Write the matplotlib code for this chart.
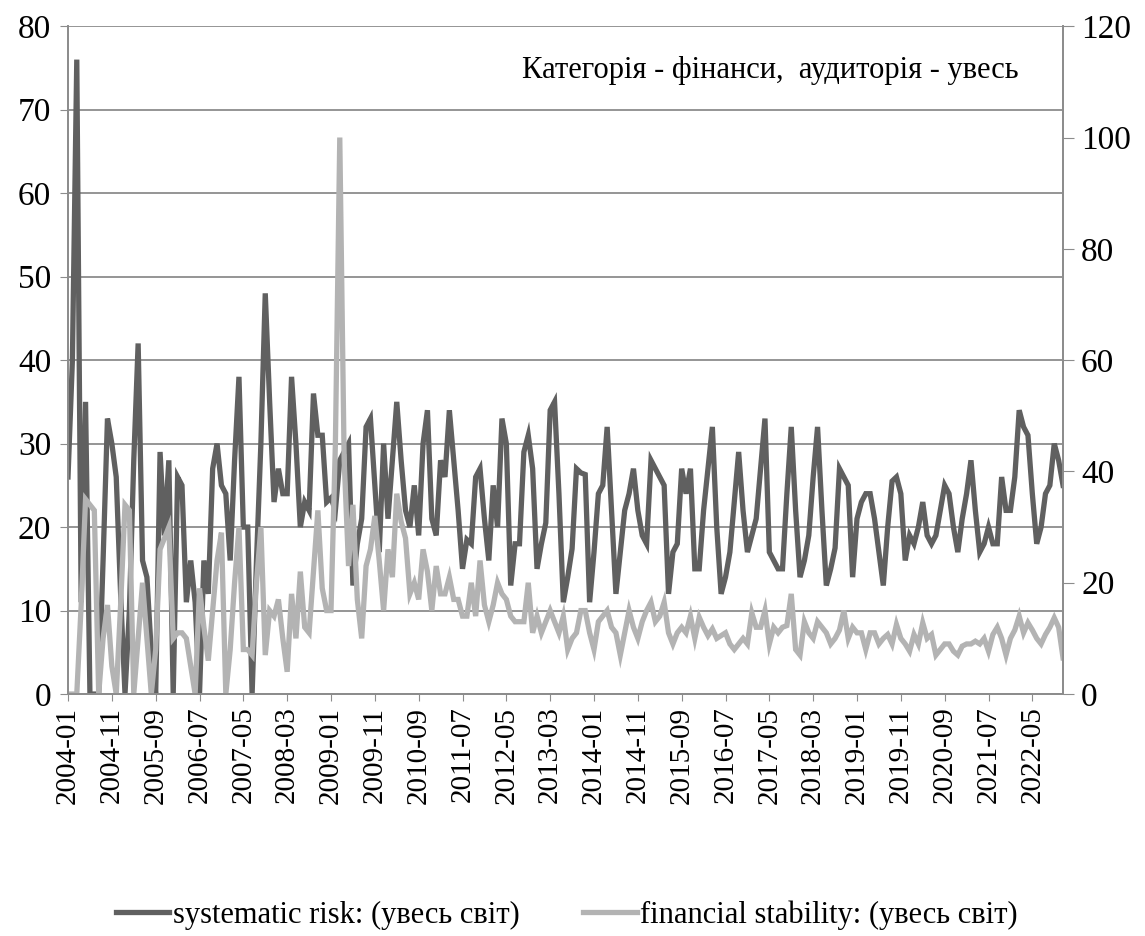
import matplotlib.pyplot as plt
import pandas as pd

# Months 2004-01 .. 2022-12
months = [str(p) for p in pd.period_range("2004-01", "2022-12", freq="M")]

# systematic risk (left axis)
systematic_risk = [
    26, 40, 76, 11, 35, 0, 0, 0, 16, 33,
    30, 26, 12, 0, 10, 28, 42, 16, 14, 5,
    0, 29, 19, 28, 0, 26, 25, 11, 16, 11,
    0, 16, 12, 27, 30, 25, 24, 16, 28, 38,
    20, 20, 0, 16, 30, 48, 35, 23, 27, 24,
    24, 38, 30, 20, 23, 22, 36, 31, 31, 23,
    23.5, 22, 28, 29, 30, 13, 18, 21, 32, 33,
    25, 17, 30, 21, 28, 35, 28, 22, 20, 25,
    19, 30, 34, 21, 19, 28, 26, 34, 28, 22,
    15, 18.5, 18, 26, 27, 21, 16, 25, 20, 33,
    30, 13, 18, 18, 29, 31, 27, 15, 18, 20.5,
    34, 35, 24, 11, 14, 17.4, 27, 26.5, 26.3, 11,
    17, 24, 25, 32, 22, 12, 17, 22, 24, 27,
    22, 19, 18, 28, 27, 26, 25, 12, 17, 18,
    27, 24, 27, 15, 15, 22, 27, 32, 20, 12,
    14, 17, 23, 29, 22, 17, 19, 21, 27, 33,
    17, 16, 15, 15, 24, 32, 22, 14, 16, 19,
    26, 32, 22, 13, 15, 17.5, 27, 26, 25, 14,
    21, 23, 24, 24, 21, 17, 13, 20, 25.5, 26,
    24, 16, 19, 18, 20, 23, 19, 18, 19, 22,
    25, 24, 20, 17, 21, 24, 28, 22, 17, 18,
    20, 18, 18, 26, 22, 22, 26, 34, 32, 31,
    24, 18, 20, 24, 25, 30, 28, 25,
]

# financial stability (right axis)
financial_stability = [
    0, 0, 0, 16, 35, 34, 33, 0, 10, 16,
    5, 0, 16, 34, 33, 0, 10, 20, 10, 0,
    8, 26, 28, 30, 10, 11, 11, 10, 5, 0,
    19, 12, 6, 15, 24, 29, 0, 8, 20, 30,
    8, 8, 7, 20, 30, 7, 15, 14, 17, 10,
    4, 18, 10, 22, 12, 11, 22, 33, 19, 15,
    15, 45, 100, 42, 23, 34, 17, 10, 23, 26,
    32, 24, 15, 26, 21, 36, 31, 28, 18, 20,
    17, 26, 22, 15, 23, 18, 18, 21, 17, 17,
    14, 14, 20, 14, 24, 16, 13, 16, 20, 18,
    17, 14, 13, 13, 13, 20, 11, 14, 11, 13,
    15, 13, 11, 14, 8, 10, 11, 15, 15, 11,
    8, 13, 14, 15, 12, 11, 7, 11, 15, 12,
    10, 13, 15, 16.5, 13, 14, 16.5, 11, 9, 11,
    12, 11, 14, 10, 13.8, 12, 10.5, 11.7, 10, 10.5,
    11, 9, 8, 9, 10, 9, 14.6, 12, 12, 15,
    9, 12, 11, 12, 12.3, 18, 8, 7, 13, 11,
    10, 13, 12, 11, 9, 10, 11.5, 15, 10, 12,
    11, 11, 8, 11, 11, 9, 10, 10.7, 9, 12.5,
    10, 9, 7.7, 10.7, 9, 12.8, 10, 10.7, 7, 8,
    9, 9, 7.7, 7, 8.6, 9, 9, 9.5, 9, 10,
    7.7, 10.7, 12, 10, 7, 10, 11.5, 14, 11, 12.8,
    11.5, 10, 9, 10.7, 12, 13.7, 12, 6.5,
]

plt.rcParams['font.family'] = ['Liberation Serif', 'DejaVu Serif']

fig = plt.figure(figsize=(11.45, 9.36), dpi=100)
ax = fig.add_axes([0.0594, 0.2585, 0.8690, 0.7135])
ax2 = ax.twinx()

x = list(range(len(months)))
l1, = ax.plot(x, systematic_risk, color='#606060', lw=3.8,
              solid_joinstyle='miter', label='systematic risk: (увесь світ)')
l2, = ax2.plot(x, financial_stability, color='#b3b3b3', lw=3.8,
               solid_joinstyle='miter', label='financial stability: (увесь світ)')

ax.set_xlim(0, len(months) - 1)
ax.set_ylim(0, 80)
ax2.set_ylim(0, 120)
ax.set_yticks(range(0, 81, 10))
ax2.set_yticks(range(0, 121, 20))
ax.set_xticks(x[::10])
ax.set_xticklabels(months[::10], rotation=90)

ax.grid(axis='y', color='#8c8c8c', lw=1.3)
ax.set_axisbelow(True)

for a in (ax, ax2):
    for s in a.spines.values():
        s.set_color('#8c8c8c')
        s.set_linewidth(1.3)
    a.spines['top'].set_visible(False)
ax.tick_params(axis='y', labelsize=24, length=6, color='#8c8c8c', pad=6)
ax.tick_params(axis='x', labelsize=21, length=5, color='#8c8c8c', pad=4)
ax2.tick_params(axis='y', labelsize=24, length=8, color='#8c8c8c', pad=5)

ax.text(0.955, 0.955, 'Категорія - фінанси,  аудиторія - увесь',
        transform=ax.transAxes, ha='right', va='top', fontsize=22)

fig.legend(handles=[l1, l2], loc='center', bbox_to_anchor=(0.495, 0.022),
           ncol=2, frameon=False, fontsize=22, handlelength=1.75,
           handletextpad=0.1, columnspacing=2.1)

fig.savefig('out.png', dpi=100)
